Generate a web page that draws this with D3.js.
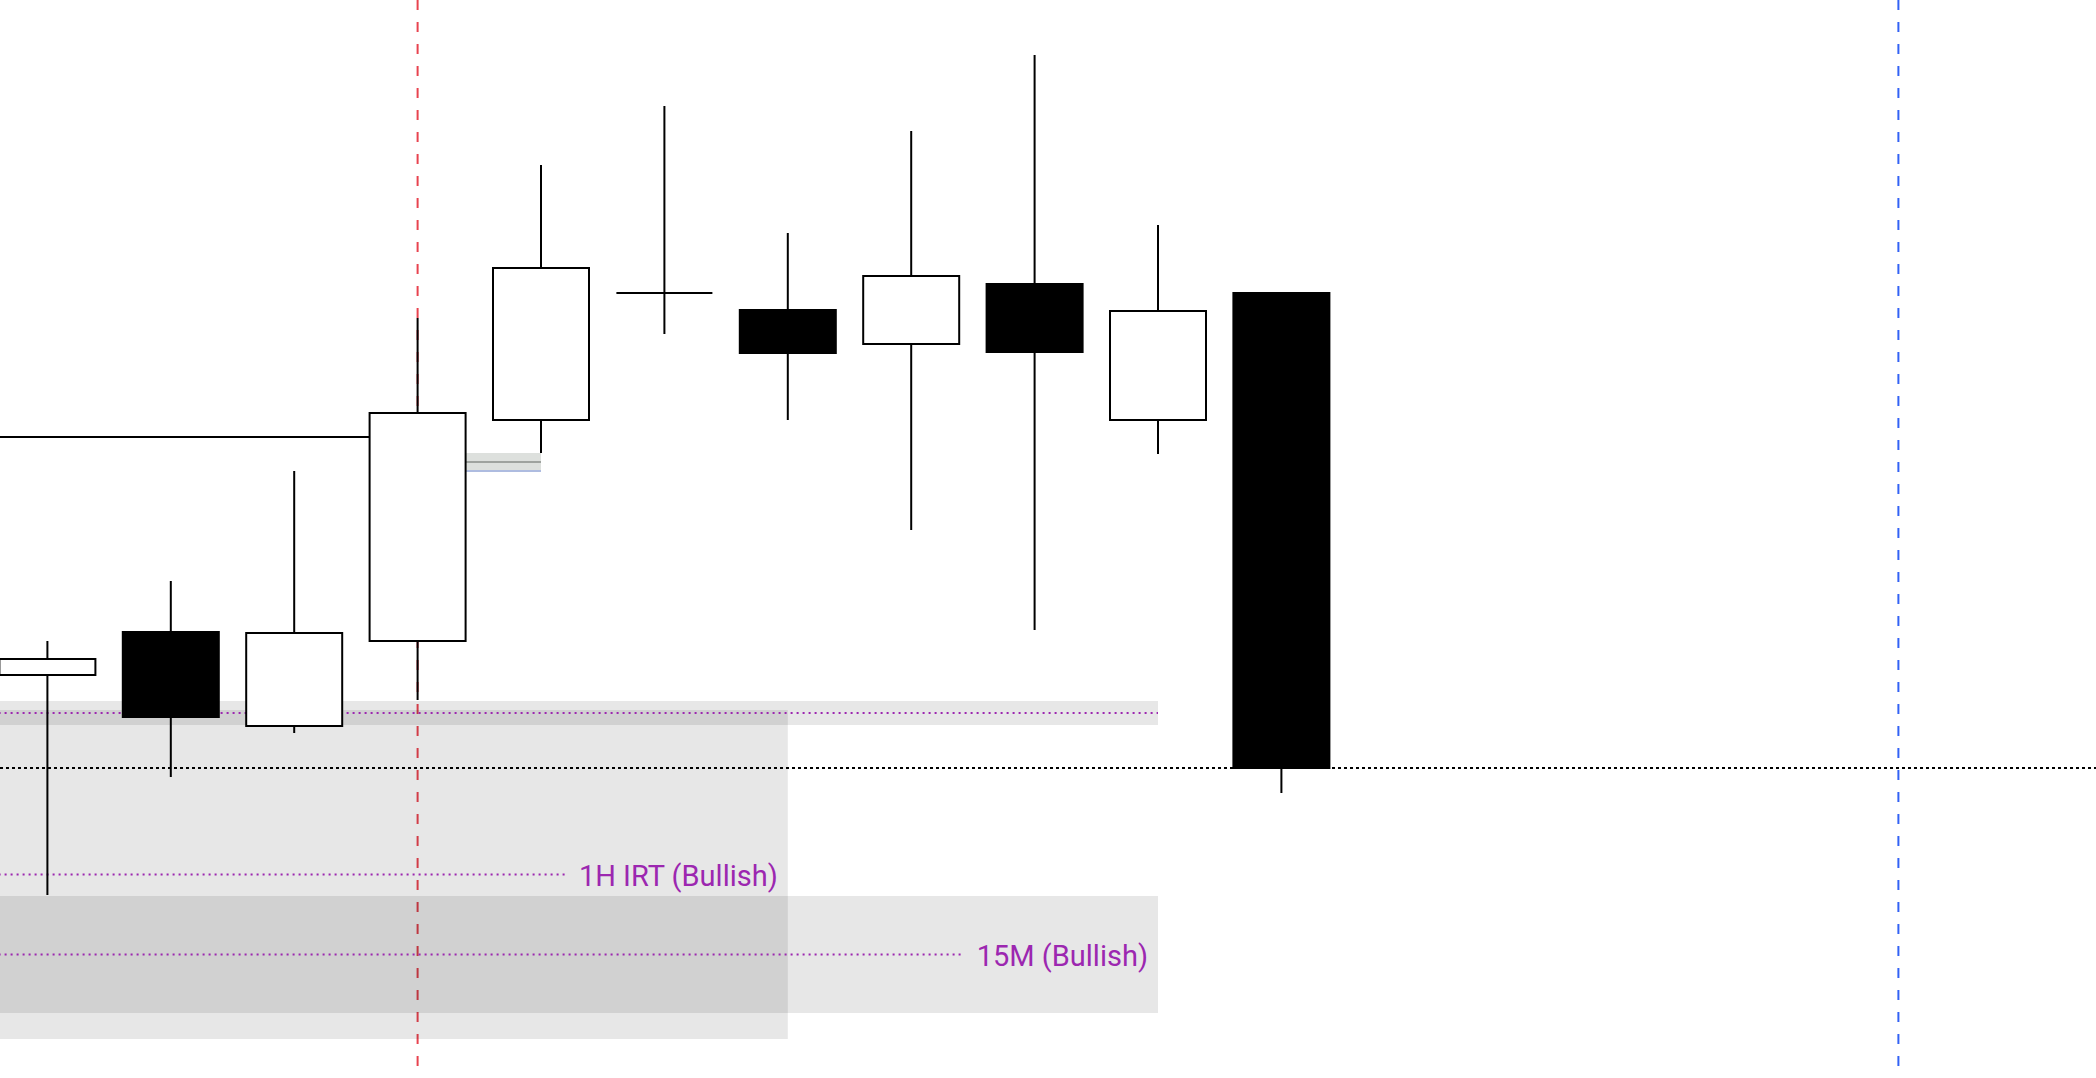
<!DOCTYPE html>
<html>
<head>
<meta charset="utf-8">
<script src="https://cdnjs.cloudflare.com/ajax/libs/d3/7.8.5/d3.min.js"></script>
<style>
html, body { margin: 0; padding: 0; background: #fff; overflow: hidden; }
svg { display: block; }
</style>
</head>
<body>
<svg id="chart"></svg>
<script>
// bar numbers (0 = leftmost visible candle)
var bars   = [0, 1, 2, 3, 4, 5, 6, 7, 8, 9, 10];
var opens  = [2352.5, 2356.8, 2347.4, 2355.9, 2378.0, 2390.7, 2389.0, 2385.6, 2391.6, 2378.0, 2390.7];
var highs  = [2355.9, 2361.9, 2372.9, 2388.2, 2403.5, 2409.4, 2396.7, 2406.9, 2414.5, 2397.5, 2390.7];
var lows   = [2330.5, 2342.3, 2346.7, 2350.0, 2374.7, 2386.6, 2378.0, 2367.0, 2357.0, 2374.6, 2340.7];
var closes = [2354.1, 2348.3, 2356.7, 2378.7, 2393.2, 2390.7, 2384.7, 2392.4, 2384.8, 2388.9, 2343.2];

// shaded zones
var zoneStart  = [-2, -2, -2];
var zoneEnd    = [9, 6, 9];
var zoneTop    = [2349.9, 2349.0, 2330.4];
var zoneBottom = [2347.5, 2316.1, 2318.7];
var zoneLabels = ["", "1H IRT (Bullish)", "15M (Bullish)"];

// small gap box after bar 3
var gapStart = 3, gapEnd = 4;
var gapTop = 2374.7, gapMid = 2373.8, gapBottom = 2372.9;

// horizontal level line
var levelPrice = 2376.3, levelStart = -2, levelEnd = 3;

// vertical session markers
var markerBars = [3, 15];
var markerColors = ["#e8434f", "#3262f5"];

var width = 2096,
    height = 1078;

var svg = d3.select("#chart")
    .attr("width", width)
    .attr("height", height);

//Scales
var x = d3.scaleLinear()
    .domain([0, 10])
    .range([47.4, 1281.4]);

var y = d3.scaleLinear()
    .domain([2312.2, 2420])
    .range([height, 0]);

var bodyW = 96;

//vertical dashed markers
svg.selectAll("line.marker")
    .data(markerBars).enter()
    .append("line")
    .attr("class", "marker")
    .attr("x1", function (d) { return x(d); })
    .attr("x2", function (d) { return x(d); })
    .attr("y1", 0)
    .attr("y2", height)
    .attr("stroke", function (d, i) { return markerColors[i]; })
    .attr("stroke-width", 2)
    .attr("stroke-dasharray", "10,12");

//zones
var zones = d3.range(zoneStart.length);
svg.selectAll("rect.zone")
    .data(zones).enter()
    .append("rect")
    .attr("class", "zone")
    .attr("x", function (i) { return x(zoneStart[i]); })
    .attr("width", function (i) { return x(zoneEnd[i]) - x(zoneStart[i]); })
    .attr("y", function (i) { return y(zoneTop[i]); })
    .attr("height", function (i) { return y(zoneBottom[i]) - y(zoneTop[i]); })
    .attr("fill", "rgba(0,0,0,0.095)");

// zone labels first, so the midline can stop before them
var labels = svg.selectAll("text.zlabel")
    .data(zones).enter()
    .append("text")
    .attr("class", "zlabel")
    .attr("x", function (i) { return x(zoneEnd[i]) - 10; })
    .attr("y", function (i) { return y((zoneTop[i] + zoneBottom[i]) / 2) + 11; })
    .attr("text-anchor", "end")
    .attr("font-family", "Roboto, 'Noto Sans', sans-serif")
    .attr("font-size", 29)
    .attr("fill", "#9c27b0")
    .text(function (i) { return zoneLabels[i]; });

var labelLeft = [];
labels.each(function (i) {
    var bb = this.getBBox();
    labelLeft[i] = zoneLabels[i] ? bb.x - 14 : x(zoneEnd[i]);
});

svg.selectAll("line.zmid")
    .data(zones).enter()
    .append("line")
    .attr("class", "zmid")
    .attr("x1", function (i) { return x(zoneStart[i]); })
    .attr("x2", function (i) { return labelLeft[i]; })
    .attr("y1", function (i) { return y((zoneTop[i] + zoneBottom[i]) / 2); })
    .attr("y2", function (i) { return y((zoneTop[i] + zoneBottom[i]) / 2); })
    .attr("stroke", "#9c27b0")
    .attr("stroke-width", 2)
    .attr("stroke-dasharray", "2,4");

//gap box
svg.append("rect")
    .attr("x", x(gapStart))
    .attr("width", x(gapEnd) - x(gapStart))
    .attr("y", y(gapTop))
    .attr("height", y(gapBottom) - y(gapTop))
    .attr("fill", "#dde0dd");
svg.append("line")
    .attr("x1", x(gapStart)).attr("x2", x(gapEnd))
    .attr("y1", y(gapMid)).attr("y2", y(gapMid))
    .attr("stroke", "#9fa39f").attr("stroke-width", 2);
svg.append("line")
    .attr("x1", x(gapStart)).attr("x2", x(gapEnd))
    .attr("y1", y(gapBottom)).attr("y2", y(gapBottom))
    .attr("stroke", "#aebce0").attr("stroke-width", 2);

//level line
svg.append("line")
    .attr("x1", x(levelStart)).attr("x2", x(levelEnd))
    .attr("y1", y(levelPrice)).attr("y2", y(levelPrice))
    .attr("stroke", "#000").attr("stroke-width", 2);

//last price dotted line
var lastClose = closes[closes.length - 1];
svg.append("line")
    .attr("x1", 0).attr("x2", width)
    .attr("y1", y(lastClose)).attr("y2", y(lastClose))
    .attr("stroke", "#000")
    .attr("stroke-width", 2)
    .attr("stroke-dasharray", "3,3");

//candles
var candles = svg.selectAll("g.candle")
    .data(bars).enter()
    .append("g")
    .attr("class", "candle");

candles.append("line")
    .attr("x1", function (i) { return x(i); })
    .attr("x2", function (i) { return x(i); })
    .attr("y1", function (i) { return y(highs[i]); })
    .attr("y2", function (i) { return y(lows[i]); })
    .attr("stroke", "#000")
    .attr("stroke-width", 2);

candles.filter(function (i) { return opens[i] !== closes[i]; })
    .append("rect")
    .attr("x", function (i) { return x(i) - bodyW / 2; })
    .attr("width", bodyW)
    .attr("y", function (i) { return y(Math.max(opens[i], closes[i])); })
    .attr("height", function (i) { return Math.abs(y(opens[i]) - y(closes[i])); })
    .attr("fill", function (i) { return closes[i] > opens[i] ? "#fff" : "#000"; })
    .attr("stroke", "#000")
    .attr("stroke-width", 2);

// doji
candles.filter(function (i) { return opens[i] === closes[i]; })
    .append("line")
    .attr("x1", function (i) { return x(i) - bodyW / 2; })
    .attr("x2", function (i) { return x(i) + bodyW / 2; })
    .attr("y1", function (i) { return y(opens[i]); })
    .attr("y2", function (i) { return y(opens[i]); })
    .attr("stroke", "#000")
    .attr("stroke-width", 2);
</script>
</body>
</html>
